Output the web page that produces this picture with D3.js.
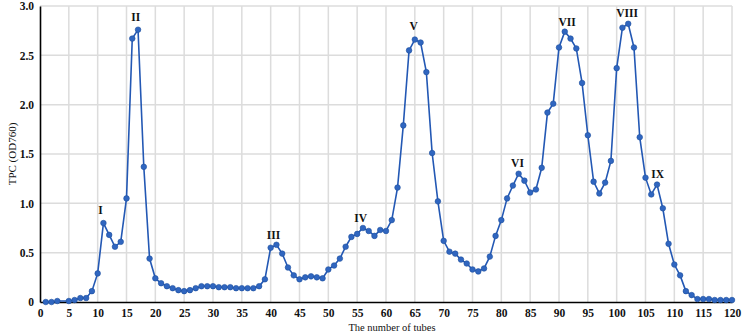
<!DOCTYPE html>
<html lang="en">
<head>
<meta charset="UTF-8">
<title>TPC profile</title>
<script src="https://d3js.org/d3.v7.min.js"></script>
<style>
  body { margin: 0; background: #fff; }
  svg text { font-family: "Liberation Serif", "DejaVu Serif", serif; }
</style>
</head>
<body>
<svg id="chart" width="743" height="335"></svg>
<script>
// tube numbers (tube 4 has no point in the source)
var tubes = [1,2,3,5,6,7,8,9,10,11,12,13,14,15,16,17,18,19,20,
  21,22,23,24,25,26,27,28,29,30,31,32,33,34,35,36,37,38,39,40,
  41,42,43,44,45,46,47,48,49,50,51,52,53,54,55,56,57,58,59,60,
  61,62,63,64,65,66,67,68,69,70,71,72,73,74,75,76,77,78,79,80,
  81,82,83,84,85,86,87,88,89,90,91,92,93,94,95,96,97,98,99,100,
  101,102,103,104,105,106,107,108,109,110,111,112,113,114,115,116,117,118,119,120];

// TPC (OD760) per tube
var tpc = [0.00,0.00,0.01,0.01,0.02,0.04,0.04,0.11,0.29,0.80,0.68,0.56,0.61,1.05,2.67,2.76,1.37,0.44,0.24,
  0.19,0.16,0.14,0.12,0.11,0.12,0.14,0.16,0.16,0.16,0.15,0.15,0.15,0.14,0.14,0.14,0.14,0.16,0.23,0.55,
  0.58,0.49,0.35,0.27,0.23,0.25,0.26,0.25,0.24,0.33,0.37,0.44,0.56,0.66,0.69,0.75,0.72,0.67,0.73,0.72,
  0.83,1.16,1.79,2.55,2.66,2.63,2.33,1.51,1.02,0.62,0.51,0.49,0.43,0.39,0.33,0.31,0.34,0.46,0.67,0.83,
  1.05,1.18,1.30,1.23,1.11,1.14,1.36,1.92,2.01,2.58,2.74,2.67,2.57,2.22,1.69,1.22,1.10,1.21,1.43,2.37,
  2.78,2.82,2.58,1.67,1.26,1.09,1.19,0.95,0.59,0.38,0.27,0.11,0.07,0.03,0.03,0.03,0.02,0.02,0.02,0.02];

// peak labels
var peakNames = ["I","II","III","IV","V","VI","VII","VIII","IX"];
var peakTube  = [10.5, 16.6, 40.5, 55.6, 64.8, 82.8, 91.4, 101.8, 107.1];
var peakLevel = [0.93, 2.89, 0.68, 0.85, 2.80, 1.41, 2.84, 2.93, 1.30];

var xTicks = d3.range(0, 121, 5);
var yTicks = [0, 0.5, 1.0, 1.5, 2.0, 2.5, 3.0];

var svg = d3.select("#chart");
var mLeft = 40, mRight = 732, mTop = 6, mBottom = 302;

var x = d3.scaleLinear().domain([0, 120]).range([mLeft, mRight]);
var y = d3.scaleLinear().domain([0, 3]).range([mBottom, mTop]);

// grid
svg.append("g")
  .selectAll("line")
  .data(xTicks.filter(function(d) { return d > 0; }))
  .enter().append("line")
  .attr("x1", function(d) { return x(d); })
  .attr("x2", function(d) { return x(d); })
  .attr("y1", mTop)
  .attr("y2", mBottom)
  .style("stroke", "#dcdcdc")
  .style("stroke-width", 1.5);

svg.append("g")
  .selectAll("line")
  .data(yTicks.filter(function(d) { return d > 0; }))
  .enter().append("line")
  .attr("x1", mLeft)
  .attr("x2", mRight)
  .attr("y1", function(d) { return y(d); })
  .attr("y2", function(d) { return y(d); })
  .style("stroke", "#dcdcdc")
  .style("stroke-width", 1.5);

// axes (no tick marks, only labels)
var xAxis = svg.append("g")
  .attr("transform", "translate(0," + mBottom + ")")
  .call(d3.axisBottom(x).tickValues(xTicks).tickSize(0).tickFormat(d3.format("d")));
var yAxis = svg.append("g")
  .attr("transform", "translate(" + mLeft + ",0)")
  .call(d3.axisLeft(y).tickValues(yTicks).tickSize(0)
    .tickFormat(function(d) { return d === 0 ? "0" : d3.format(".1f")(d); }));

[xAxis, yAxis].forEach(function(a) {
  a.select(".domain").style("stroke", "#000").style("stroke-width", 1.6);
  a.selectAll("text")
    .style("font-family", "'Liberation Serif', serif")
    .style("font-weight", "bold")
    .style("font-size", "11.5px")
    .style("fill", "#111");
});
xAxis.selectAll("text").attr("dy", "0.75em").attr("y", 6);
yAxis.selectAll("text").attr("x", -6);

// axis titles
svg.append("text")
  .attr("x", 392)
  .attr("y", 331)
  .attr("text-anchor", "middle")
  .style("font-size", "10.5px")
  .style("fill", "#111")
  .text("The number of tubes");

svg.append("text")
  .attr("transform", "translate(12," + ((mTop + mBottom) / 2) + ") rotate(-90)")
  .attr("text-anchor", "middle")
  .attr("dy", "0.35em")
  .style("font-size", "11px")
  .style("fill", "#111")
  .text("TPC (OD760)");

// series
var pts = tubes.map(function(t, i) { return { t: t, v: tpc[i] }; });

svg.append("path")
  .datum(pts)
  .attr("d", d3.line().x(function(d) { return x(d.t); }).y(function(d) { return y(d.v); }))
  .style("fill", "none")
  .style("stroke", "#2358b4")
  .style("stroke-width", 1.6);

svg.append("g")
  .selectAll("circle")
  .data(pts)
  .enter().append("circle")
  .attr("cx", function(d) { return x(d.t); })
  .attr("cy", function(d) { return y(d.v); })
  .attr("r", 2.8)
  .style("fill", "#3066c0")
  .style("stroke", "#1d4f9e")
  .style("stroke-width", 0.6);

// peak labels
svg.append("g")
  .selectAll("text")
  .data(peakNames)
  .enter().append("text")
  .attr("x", function(d, i) { return x(peakTube[i]); })
  .attr("y", function(d, i) { return y(peakLevel[i]); })
  .attr("dy", "0.35em")
  .attr("text-anchor", "middle")
  .style("font-size", "11.5px")
  .style("font-weight", "bold")
  .style("fill", "#111")
  .text(function(d) { return d; });
</script>
</body>
</html>
